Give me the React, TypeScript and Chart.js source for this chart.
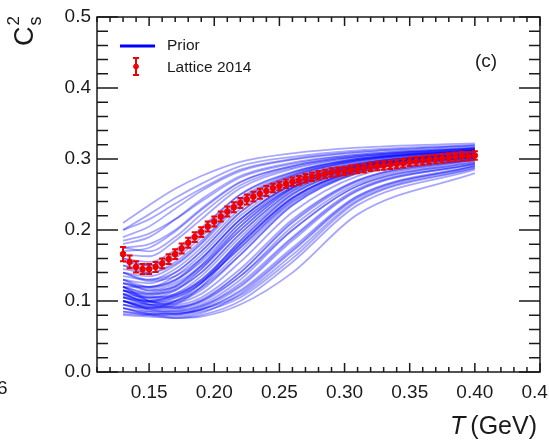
import { useEffect, useRef } from "react";
import { Chart, registerables } from "chart.js";

Chart.register(...registerables);

// Lattice 2014 speed of sound squared vs temperature (GeV)
const latticeT = [
  0.13, 0.135, 0.14, 0.145, 0.15, 0.155, 0.16, 0.165, 0.17, 0.175, 0.18, 0.185, 0.19, 0.195,
  0.2, 0.205, 0.21, 0.215, 0.22, 0.225, 0.23, 0.235, 0.24, 0.245, 0.25, 0.255, 0.26, 0.265,
  0.27, 0.275, 0.28, 0.285, 0.29, 0.295, 0.3, 0.305, 0.31, 0.315, 0.32, 0.325, 0.33, 0.335,
  0.34, 0.345, 0.35, 0.355, 0.36, 0.365, 0.37, 0.375, 0.38, 0.385, 0.39, 0.395, 0.4,
];
const latticeCs2 = [
  0.166, 0.155, 0.148, 0.145, 0.145, 0.148, 0.153, 0.159, 0.166, 0.174, 0.182, 0.19, 0.197, 0.205,
  0.212, 0.219, 0.226, 0.232, 0.238, 0.243, 0.247, 0.251, 0.255, 0.259, 0.262, 0.265, 0.268, 0.27,
  0.273, 0.275, 0.277, 0.279, 0.281, 0.282, 0.283, 0.285, 0.286, 0.287, 0.289, 0.29, 0.291, 0.292,
  0.293, 0.294, 0.296, 0.297, 0.298, 0.299, 0.3, 0.301, 0.302, 0.303, 0.304, 0.304, 0.305,
];
const latticeErr = [
  0.01, 0.009, 0.008, 0.007, 0.007, 0.007, 0.007, 0.007, 0.007, 0.007, 0.007, 0.007, 0.007, 0.007,
  0.007, 0.007, 0.007, 0.007, 0.007, 0.007, 0.007, 0.007, 0.007, 0.006, 0.006, 0.006, 0.006, 0.006,
  0.006, 0.006, 0.006, 0.006, 0.006, 0.006, 0.006, 0.006, 0.006, 0.006, 0.006, 0.006, 0.006, 0.006,
  0.006, 0.006, 0.006, 0.006, 0.006, 0.006, 0.006, 0.006, 0.006, 0.006, 0.006, 0.006, 0.006,
];

// Prior draws, sampled at these temperatures
const priorT = [0.13, 0.15, 0.17, 0.19, 0.22, 0.26, 0.31, 0.4];
const priorCurves: number[][] = [
  // early risers
  [0.21, 0.235, 0.258, 0.276, 0.296, 0.308, 0.316, 0.322],
  [0.2, 0.222, 0.245, 0.265, 0.29, 0.303, 0.312, 0.32],
  [0.2, 0.215, 0.237, 0.258, 0.285, 0.3, 0.31, 0.319],
  [0.19, 0.205, 0.23, 0.255, 0.283, 0.299, 0.309, 0.318],
  [0.18, 0.19, 0.215, 0.243, 0.276, 0.295, 0.306, 0.316],
  [0.17, 0.175, 0.198, 0.228, 0.267, 0.29, 0.304, 0.315],
  [0.175, 0.17, 0.19, 0.222, 0.263, 0.288, 0.303, 0.315],
  [0.165, 0.163, 0.185, 0.215, 0.259, 0.286, 0.302, 0.314],
  [0.16, 0.155, 0.172, 0.203, 0.25, 0.281, 0.3, 0.313],
  [0.16, 0.15, 0.168, 0.2, 0.25, 0.282, 0.3, 0.313],
  [0.15, 0.145, 0.16, 0.19, 0.242, 0.277, 0.298, 0.312],
  [0.15, 0.14, 0.152, 0.182, 0.24, 0.278, 0.299, 0.312],
  [0.175, 0.18, 0.2, 0.23, 0.268, 0.29, 0.304, 0.315],
  [0.185, 0.195, 0.215, 0.24, 0.274, 0.293, 0.306, 0.316],
  [0.155, 0.15, 0.165, 0.195, 0.245, 0.28, 0.3, 0.313],
  [0.145, 0.14, 0.155, 0.185, 0.238, 0.276, 0.298, 0.312],
  [0.14, 0.135, 0.15, 0.18, 0.235, 0.275, 0.297, 0.311],
  // central draws
  [0.14, 0.13, 0.14, 0.17, 0.225, 0.27, 0.295, 0.31],
  [0.14, 0.128, 0.135, 0.16, 0.215, 0.264, 0.291, 0.307],
  [0.13, 0.12, 0.13, 0.16, 0.215, 0.265, 0.292, 0.308],
  [0.13, 0.115, 0.12, 0.145, 0.2, 0.258, 0.29, 0.307],
  [0.125, 0.115, 0.125, 0.15, 0.205, 0.26, 0.29, 0.307],
  [0.125, 0.118, 0.128, 0.158, 0.215, 0.265, 0.292, 0.308],
  [0.12, 0.11, 0.115, 0.14, 0.195, 0.255, 0.288, 0.306],
  [0.12, 0.105, 0.108, 0.128, 0.18, 0.245, 0.284, 0.304],
  [0.115, 0.105, 0.11, 0.13, 0.185, 0.25, 0.286, 0.305],
  [0.115, 0.103, 0.107, 0.127, 0.175, 0.24, 0.282, 0.303],
  [0.11, 0.1, 0.105, 0.125, 0.175, 0.242, 0.283, 0.304],
  [0.11, 0.098, 0.104, 0.125, 0.178, 0.244, 0.284, 0.304],
  [0.105, 0.098, 0.1, 0.118, 0.165, 0.235, 0.28, 0.302],
  [0.105, 0.095, 0.1, 0.12, 0.17, 0.238, 0.281, 0.302],
  [0.1, 0.095, 0.097, 0.11, 0.155, 0.225, 0.276, 0.3],
  [0.1, 0.092, 0.098, 0.115, 0.165, 0.235, 0.28, 0.302],
  [0.12, 0.12, 0.135, 0.165, 0.22, 0.268, 0.293, 0.309],
  [0.135, 0.13, 0.145, 0.175, 0.23, 0.273, 0.297, 0.311],
  [0.11, 0.105, 0.115, 0.145, 0.205, 0.26, 0.29, 0.306],
  [0.1, 0.09, 0.095, 0.12, 0.18, 0.245, 0.285, 0.304],
  [0.115, 0.11, 0.12, 0.15, 0.21, 0.263, 0.292, 0.308],
  [0.125, 0.12, 0.13, 0.155, 0.21, 0.26, 0.289, 0.305],
  [0.105, 0.1, 0.11, 0.135, 0.19, 0.252, 0.287, 0.305],
  [0.095, 0.09, 0.1, 0.125, 0.185, 0.25, 0.285, 0.303],
  [0.13, 0.125, 0.14, 0.17, 0.225, 0.27, 0.294, 0.309],
  [0.115, 0.108, 0.117, 0.14, 0.195, 0.255, 0.288, 0.306],
  [0.12, 0.112, 0.122, 0.148, 0.2, 0.258, 0.289, 0.306],
  [0.108, 0.1, 0.108, 0.13, 0.182, 0.246, 0.284, 0.303],
  // late risers
  [0.1, 0.09, 0.088, 0.095, 0.13, 0.2, 0.262, 0.296],
  [0.1, 0.092, 0.09, 0.1, 0.135, 0.2, 0.262, 0.296],
  [0.095, 0.085, 0.082, 0.09, 0.12, 0.185, 0.255, 0.293],
  [0.095, 0.088, 0.086, 0.093, 0.122, 0.188, 0.256, 0.293],
  [0.09, 0.082, 0.078, 0.083, 0.11, 0.17, 0.245, 0.29],
  [0.09, 0.082, 0.082, 0.088, 0.113, 0.172, 0.247, 0.29],
  [0.085, 0.08, 0.076, 0.08, 0.1, 0.155, 0.235, 0.285],
  [0.085, 0.082, 0.082, 0.088, 0.108, 0.165, 0.242, 0.288],
  [0.08, 0.078, 0.076, 0.078, 0.095, 0.14, 0.222, 0.28],
  [0.11, 0.095, 0.09, 0.098, 0.135, 0.205, 0.265, 0.298],
  [0.105, 0.095, 0.092, 0.102, 0.14, 0.21, 0.268, 0.299],
  [0.115, 0.1, 0.095, 0.105, 0.145, 0.215, 0.27, 0.3],
  [0.09, 0.085, 0.085, 0.092, 0.125, 0.19, 0.258, 0.294],
  [0.12, 0.1, 0.092, 0.1, 0.14, 0.212, 0.27, 0.3],
  [0.1, 0.088, 0.084, 0.088, 0.115, 0.175, 0.248, 0.291],
  [0.082, 0.08, 0.08, 0.085, 0.105, 0.16, 0.24, 0.287],
];

const xTickValues = [0.15, 0.2, 0.25, 0.3, 0.35, 0.4, 0.45];
const yTickValues = [0, 0.1, 0.2, 0.3, 0.4, 0.5];

const FONT = '"Liberation Sans", Arial, Helvetica, sans-serif';
const INK = "#1a1a1a";
const PRIOR_COLOR = "rgba(0, 0, 255, 0.35)";
const LATTICE_COLOR = "#f00000";

const errorBars = {
  id: "errorBars",
  afterDatasetsDraw(chart: any) {
    const { ctx } = chart;
    const x = chart.scales.x;
    const y = chart.scales.y;
    ctx.save();
    ctx.strokeStyle = LATTICE_COLOR;
    ctx.lineWidth = 2;
    latticeT.forEach((t, i) => {
      const px = x.getPixelForValue(t);
      const top = y.getPixelForValue(latticeCs2[i] + latticeErr[i]);
      const bot = y.getPixelForValue(latticeCs2[i] - latticeErr[i]);
      ctx.beginPath();
      ctx.moveTo(px, top);
      ctx.lineTo(px, bot);
      ctx.moveTo(px - 3, top);
      ctx.lineTo(px + 3, top);
      ctx.moveTo(px - 3, bot);
      ctx.lineTo(px + 3, bot);
      ctx.stroke();
    });
    ctx.restore();
  },
};

const frameAndLabels = {
  id: "frameAndLabels",
  afterDraw(chart: any) {
    const { ctx, chartArea: a } = chart;
    const x = chart.scales.x;
    const y = chart.scales.y;
    ctx.save();
    ctx.strokeStyle = INK;
    ctx.lineWidth = 1.5;
    ctx.strokeRect(a.left, a.top, a.right - a.left, a.bottom - a.top);

    ctx.beginPath();
    // horizontal axes: minor every 0.01, major every 0.05
    for (let k = 11; k <= 45; k++) {
      const px = x.getPixelForValue(k / 100);
      const len = k % 5 === 0 ? 9 : 5;
      ctx.moveTo(px, a.bottom);
      ctx.lineTo(px, a.bottom - len);
      ctx.moveTo(px, a.top);
      ctx.lineTo(px, a.top + len);
    }
    // vertical axes: minor every 0.02, major every 0.1
    for (let k = 0; k <= 25; k++) {
      const py = y.getPixelForValue(k / 50);
      const len = k % 5 === 0 ? 21 : 11;
      ctx.moveTo(a.left, py);
      ctx.lineTo(a.left + len, py);
      ctx.moveTo(a.right, py);
      ctx.lineTo(a.right - len, py);
    }
    ctx.stroke();

    // legend
    ctx.strokeStyle = "#0000ff";
    ctx.lineWidth = 3;
    ctx.beginPath();
    ctx.moveTo(120, 46);
    ctx.lineTo(155, 46);
    ctx.stroke();

    ctx.strokeStyle = LATTICE_COLOR;
    ctx.fillStyle = LATTICE_COLOR;
    ctx.lineWidth = 2;
    ctx.beginPath();
    ctx.moveTo(136, 58);
    ctx.lineTo(136, 75);
    ctx.moveTo(133, 58);
    ctx.lineTo(139, 58);
    ctx.moveTo(133, 75);
    ctx.lineTo(139, 75);
    ctx.stroke();
    ctx.beginPath();
    ctx.arc(136, 66.5, 2.8, 0, Math.PI * 2);
    ctx.fill();

    ctx.fillStyle = INK;
    ctx.textBaseline = "middle";
    ctx.textAlign = "left";
    ctx.font = `15.5px ${FONT}`;
    ctx.fillText("Prior", 167, 46);
    ctx.fillText("Lattice 2014", 167, 68);

    ctx.font = `19px ${FONT}`;
    ctx.textAlign = "center";
    ctx.fillText("(c)", 486, 62);

    // x axis title
    ctx.textBaseline = "alphabetic";
    ctx.textAlign = "right";
    ctx.font = `25px ${FONT}`;
    const unit = "(GeV)";
    const uw = ctx.measureText(unit).width;
    ctx.fillText(unit, 537, 434);
    ctx.font = `italic 25px ${FONT}`;
    ctx.fillText("T", 537 - uw - 5, 434);

    // y axis title, rotated
    ctx.save();
    ctx.translate(33, 46);
    ctx.rotate(-Math.PI / 2);
    ctx.textAlign = "left";
    ctx.font = `27px ${FONT}`;
    ctx.fillText("C", 0, 0);
    const cw = ctx.measureText("C").width;
    ctx.font = `18px ${FONT}`;
    ctx.fillText("s", cw + 1, 8);
    ctx.font = `17px ${FONT}`;
    ctx.fillText("2", cw + 1, -14);
    ctx.restore();

    // neighbouring panel label fragment
    ctx.font = `19px ${FONT}`;
    ctx.textAlign = "left";
    ctx.fillText("6", -3, 394);

    ctx.restore();
  },
};

export default function App() {
  const canvasRef = useRef<HTMLCanvasElement | null>(null);

  useEffect(() => {
    if (!canvasRef.current) return;

    const priorSets = priorCurves.map((vals) => ({
      type: "line" as const,
      data: priorT.map((t, i) => ({ x: t, y: vals[i] })),
      borderColor: PRIOR_COLOR,
      borderWidth: 1.8,
      pointRadius: 0,
      fill: false,
      cubicInterpolationMode: "monotone" as const,
      order: 2,
    }));

    const chart = new Chart(canvasRef.current, {
      type: "scatter",
      data: {
        datasets: [
          {
            type: "scatter",
            data: latticeT.map((t, i) => ({ x: t, y: latticeCs2[i] })),
            backgroundColor: LATTICE_COLOR,
            borderColor: LATTICE_COLOR,
            pointRadius: 2.8,
            pointStyle: "circle",
            order: 1,
          },
          ...priorSets,
        ] as any,
      },
      options: {
        responsive: false,
        maintainAspectRatio: false,
        devicePixelRatio: 1,
        animation: false,
        layout: { padding: { left: 0, right: 9, top: 17, bottom: 0 } },
        plugins: { legend: { display: false }, tooltip: { enabled: false } },
        scales: {
          x: {
            type: "linear",
            min: 0.11,
            max: 0.45,
            grid: { display: false, drawTicks: false },
            border: { display: false },
            afterBuildTicks: (s: any) => {
              s.ticks = xTickValues.map((v) => ({ value: v }));
            },
            afterFit: (s: any) => {
              s.height = 68;
              s.paddingLeft = 0;
              s.paddingRight = 0;
            },
            ticks: {
              autoSkip: false,
              maxRotation: 0,
              padding: 9,
              color: INK,
              font: { family: FONT, size: 19 },
              callback: (v: any) => Number(v).toFixed(2),
            },
          },
          y: {
            type: "linear",
            min: 0,
            max: 0.5,
            grid: { display: false, drawTicks: false },
            border: { display: false },
            afterBuildTicks: (s: any) => {
              s.ticks = yTickValues.map((v) => ({ value: v }));
            },
            afterFit: (s: any) => {
              s.width = 97;
              s.paddingTop = 0;
              s.paddingBottom = 0;
            },
            ticks: {
              padding: 6,
              color: INK,
              font: { family: FONT, size: 19 },
              callback: (v: any) => Number(v).toFixed(1),
            },
          },
        },
      },
      plugins: [errorBars, frameAndLabels],
    });

    return () => chart.destroy();
  }, []);

  return (
    <div style={{ position: "absolute", left: 0, top: 0, width: 549, height: 440, background: "#fff" }}>
      <canvas ref={canvasRef} width={549} height={440} style={{ display: "block" }} />
    </div>
  );
}
